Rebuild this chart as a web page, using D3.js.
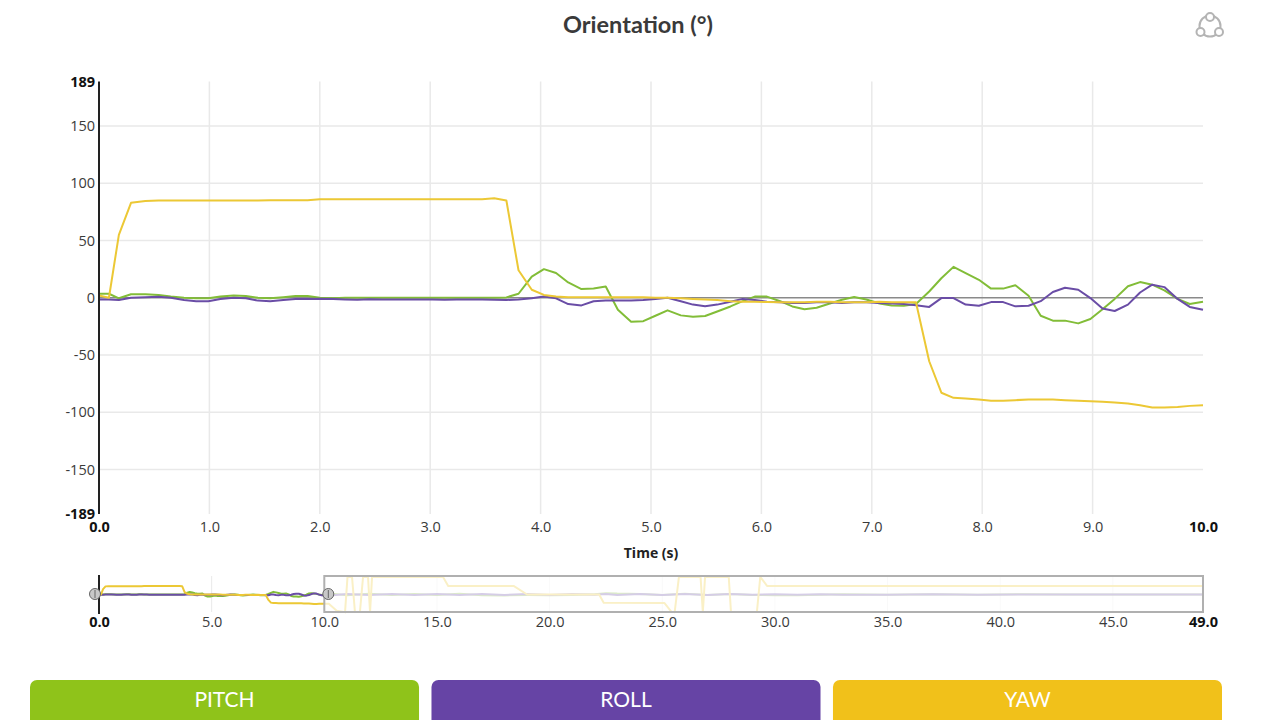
<!DOCTYPE html>
<html>
<head>
<meta charset="utf-8">
<title>Orientation</title>
<script src="https://cdn.jsdelivr.net/npm/d3@7"></script>
<style>
html, body { margin: 0; padding: 0; background: #fff; overflow: hidden; }
svg { display: block; }
.tick text { font-family: "Open Sans", sans-serif; font-size: 14.5px; fill: #3a3a3a; }
.tick.edge text { font-weight: 700; fill: #111; }
.axis .domain { display: none; }
.axis .tick line { display: none; }
</style>
</head>
<body>
<div id="chart"></div>
<script>
// zoomed window samples (0 - 10 s)
var times = [0,.09,.18,.29,.42,.54,.65,.77,.88,.99,
  1.1,1.22,1.33,1.44,1.55,1.67,1.78,1.89,2.0,2.12,
  2.23,2.34,2.45,2.57,2.68,2.79,2.9,3.02,3.13,3.24,
  3.35,3.47,3.58,3.69,3.8,3.92,4.03,4.14,4.25,4.37,
  4.48,4.59,4.7,4.82,4.93,5.04,5.15,5.27,5.38,5.49,
  5.6,5.72,5.83,5.94,6.05,6.17,6.28,6.39,6.5,6.62,
  6.73,6.84,6.95,7.07,7.18,7.29,7.4,7.52,7.63,7.74,
  7.85,7.97,8.08,8.19,8.3,8.42,8.53,8.64,8.75,8.87,
  8.98,9.09,9.2,9.32,9.43,9.54,9.65,9.77,9.88,10.0];
var pitch = [3.5,3.5,-0.5,3,3,2.5,1,0,-0.5,-0.5,
  1,2,1.5,0,-0.5,0.5,1.5,1.5,0,-0.5,
  0,0,0,0,0,0,0,0,0,0,
  0,0,0,0.3,3.5,18.5,25,21.6,13.4,7.6,
  8,9.9,-10.5,-21,-20.5,-15.7,-11,-15.4,-16.6,-16,
  -12,-7.6,-3,1,1,-3,-7.6,-10,-8.7,-5,
  -1.7,0.6,-1.5,-5,-6.8,-7,-5.5,5.5,17,27,
  21.5,15.7,8,8,11,1.7,-15.7,-20,-20,-22.4,
  -18.6,-10,-1,10,13.7,11.4,6.4,-1,-5.5,-3.5];
var roll = [-1.5,-1.5,-2,0,0.5,0.8,0,-2,-3,-3,
  -1,0,-0.5,-2.5,-3,-2,-1,-1,-0.8,-1,
  -1.5,-1.8,-1.3,-1.5,-1.5,-1.5,-1.5,-1.5,-1.7,-1.5,
  -1.5,-1.5,-1.7,-2,-1.5,-0.5,1,-0.5,-5.5,-6.7,
  -3,-2.5,-2.5,-2.3,-2,-1,0,-3,-6,-7.5,
  -6,-3.5,-1,-2,-3.5,-4,-4.5,-4.5,-4,-4,
  -4.5,-4,-4,-4.5,-5,-5.5,-6.5,-8,-0.3,-0.3,
  -6,-7,-3.8,-3.8,-7.5,-7,-3,5,8.7,7,
  -0.3,-9.4,-11.6,-6,4.6,11.4,9.3,-1,-8,-10.5];
var yaw = [2,0,55,83,84.5,85,85,85,85,85,
  85,85,85,85,85.3,85.3,85.3,85.3,86,86,
  86,86,86,86,86,86,86,86,86,86,
  86,86,87,85,24,7,2.5,1,0.5,0.5,
  .5,.5,.5,.5,.5,0,0,-.5,-1,-1.5,
  -2,-3,-3.5,-3.5,-3.8,-4,-4,-4,-3.5,-3.5,
  -4,-4,-4,-3.5,-4,-4,-4,-55.5,-83,-87.5,
  -88,-89,-90,-90,-89.5,-89,-89,-89,-89.5,-90,
  -90.5,-91,-91.5,-92.5,-94,-96,-96,-95.5,-94.5,-94];

// rest of the recording, only seen in the overview
var restTimes = [10.5,11,12,13,14,15,16,17,18,19,20,21,22,22.5,23,24,25,26,27,28,29,30,31,32,33,35,37,39,41,43,45,47,49];
var restPitch = [6,-8,7,-6,5,-6,7,-8,-9,-6,-8,-4,3,14,9,5,-6,8,-5,6,-4,-8,-8,-3,2,-3,3,-2,2,-1,1,-1,0];
var restRoll = [-4,6,-5,5,-6,4,-5,6,-4,5,-5,4,-3,4,-6,6,-6,4,-5,5,-3,2,-3,2,-2,-3,3,-2,1,-1,1,0,0];
var restYawTimes = [10.2,10.55,10.92,11.03,11.23,11.36,11.58,11.72,11.94,12.03,12.12,15.27,15.5,18.4,19,22.2,22.4,25.1,25.4,25.55,25.74,26.7,26.8,26.9,27.95,28.05,29.2,29.35,29.65,49];
var restYaw = [-94,-165,-180,180,180,-180,-180,180,180,-180,180,180,88,88,0,0,-85,-88,-175,-180,180,180,-180,180,180,-180,-180,180,88,88];

var seriesNames = ["PITCH", "ROLL", "YAW"];
var lineColors = ["#82bd38", "#6a4da6", "#ecc835"];
var buttonColors = ["#8fc31a", "#6644a5", "#f1c11a"];
var yTicks = [189, 150, 100, 50, 0, -50, -100, -150, -189];
var xTicks = [0, 1, 2, 3, 4, 5, 6, 7, 8, 9, 10];
var overviewTicks = [0, 5, 10, 15, 20, 25, 30, 35, 40, 45, 49];
var windowEnd = 10, totalEnd = 49;

var svg = d3.select("#chart").append("svg")
  .attr("width", 1280)
  .attr("height", 720);

var x = d3.scaleLinear().domain([0, windowEnd]).range([99, 1203]);
var y = d3.scaleLinear().domain([-189, 189]).range([514, 81.5]);
var xo = d3.scaleLinear().domain([0, totalEnd]).range([99, 1203]);
var yo = d3.scaleLinear().domain([-189, 189]).range([613, 576]);

// title
svg.append("text")
  .attr("x", 638).attr("y", 33)
  .attr("text-anchor", "middle")
  .style("font-family", "Lato, sans-serif")
  .style("font-size", "23.5px")
  .style("font-weight", "700")
  .style("fill", "#3a3a3a")
  .text("Orientation (°)");

// little share icon, top right
var icon = svg.append("g")
  .attr("fill", "none")
  .attr("stroke", "#b4b4b4")
  .attr("stroke-width", 2);
icon.append("circle").attr("cx", 1210).attr("cy", 26).attr("r", 10.5);
[[1210, 17], [1200.5, 32], [1219, 32]].forEach(function(c) {
  icon.append("circle").attr("cx", c[0]).attr("cy", c[1]).attr("r", 4).attr("fill", "#fff");
});

// grid
svg.append("g").selectAll("line")
  .data(yTicks.filter(d => Math.abs(d) != 189 && d != 0))
  .enter().append("line")
  .attr("x1", 99).attr("x2", 1203)
  .attr("y1", d => y(d)).attr("y2", d => y(d))
  .attr("stroke", "#e9e9e9").attr("stroke-width", 1.5);
svg.append("g").selectAll("line")
  .data(xTicks.filter(d => d != 0 && d != 10))
  .enter().append("line")
  .attr("x1", d => x(d)).attr("x2", d => x(d))
  .attr("y1", 81.5).attr("y2", 514)
  .attr("stroke", "#e9e9e9").attr("stroke-width", 1.5);

// zero line
svg.append("line")
  .attr("x1", 99).attr("x2", 1203)
  .attr("y1", y(0)).attr("y2", y(0))
  .attr("stroke", "#8a8a8a").attr("stroke-width", 1.5);

// main lines
var mainLine = d3.line().x(d => x(d[0])).y(d => y(d[1]));
[pitch, roll, yaw].forEach(function(values, i) {
  svg.append("path")
    .datum(d3.zip(times, values))
    .attr("d", mainLine)
    .attr("fill", "none")
    .attr("stroke", lineColors[i])
    .attr("stroke-width", 2)
    .attr("stroke-linejoin", "round");
});

// axes
var yAxis = svg.append("g")
  .attr("class", "axis")
  .attr("transform", "translate(99,0)")
  .call(d3.axisLeft(y).tickValues(yTicks).tickFormat(String).tickSize(0).tickPadding(4));
yAxis.selectAll(".tick").classed("edge", d => Math.abs(d) == 189);

svg.append("line")
  .attr("x1", 99).attr("x2", 99)
  .attr("y1", 81.5).attr("y2", 514)
  .attr("stroke", "#222").attr("stroke-width", 2);

var xAxis = svg.append("g")
  .attr("class", "axis")
  .attr("transform", "translate(0,518)")
  .call(d3.axisBottom(x).tickValues(xTicks).tickFormat(d3.format(".1f")).tickSize(0).tickPadding(4));
xAxis.selectAll(".tick").classed("edge", d => d == 0 || d == 10);

svg.append("text")
  .attr("x", 651).attr("y", 558)
  .attr("text-anchor", "middle")
  .style("font-family", "'Open Sans', sans-serif")
  .style("font-size", "14px")
  .style("font-weight", "700")
  .style("fill", "#222")
  .text("Time (s)");

// overview strip
svg.append("g").selectAll("line")
  .data(overviewTicks.filter(d => d != 0 && d != totalEnd))
  .enter().append("line")
  .attr("x1", d => xo(d)).attr("x2", d => xo(d))
  .attr("y1", 576).attr("y2", 612)
  .attr("stroke", "#e9e9e9").attr("stroke-width", 1);

var overLine = d3.line().x(d => xo(d[0])).y(d => yo(d[1]));
var fullSeries = [
  d3.zip(times.concat(restTimes), pitch.concat(restPitch)),
  d3.zip(times.concat(restTimes), roll.concat(restRoll)),
  d3.zip(times.concat(restYawTimes), yaw.concat(restYaw))
];
fullSeries.forEach(function(points, i) {
  svg.append("path")
    .datum(points)
    .attr("d", overLine)
    .attr("fill", "none")
    .attr("stroke", lineColors[i])
    .attr("stroke-width", 2)
    .attr("stroke-linejoin", "round");
});

// part of the recording outside the window is washed out
svg.append("rect")
  .attr("x", xo(windowEnd)).attr("y", 576)
  .attr("width", xo(totalEnd) - xo(windowEnd)).attr("height", 36)
  .attr("fill", "#fff").attr("fill-opacity", 0.72)
  .attr("stroke", "#b0b0b0").attr("stroke-width", 2);

svg.append("line")
  .attr("x1", 99).attr("x2", 99)
  .attr("y1", 575).attr("y2", 614)
  .attr("stroke", "#222").attr("stroke-width", 2);

// brush handles
[0, windowEnd].forEach(function(d, i) {
  var hx = xo(d) + (i ? 4 : -4);
  svg.append("circle")
    .attr("cx", hx).attr("cy", 594).attr("r", 5.5)
    .attr("fill", "#c8c8c8").attr("stroke", "#666").attr("stroke-width", 1);
  svg.append("line")
    .attr("x1", hx).attr("x2", hx)
    .attr("y1", 590).attr("y2", 598)
    .attr("stroke", "#666").attr("stroke-width", 1);
});

var overviewAxis = svg.append("g")
  .attr("class", "axis")
  .attr("transform", "translate(0,613)")
  .call(d3.axisBottom(xo).tickValues(overviewTicks).tickFormat(d3.format(".1f")).tickSize(0).tickPadding(4));
overviewAxis.selectAll(".tick").classed("edge", d => d == 0 || d == totalEnd);

// series buttons
var buttonX = d3.scaleBand().domain(seriesNames).range([30, 1222]).paddingInner(0.031);
var buttons = svg.selectAll(".series-button")
  .data(seriesNames)
  .enter().append("g")
  .attr("class", "series-button");
buttons.append("rect")
  .attr("x", d => buttonX(d)).attr("y", 680)
  .attr("width", buttonX.bandwidth()).attr("height", 48)
  .attr("rx", 7)
  .attr("fill", (d, i) => buttonColors[i]);
buttons.append("text")
  .attr("x", d => buttonX(d) + buttonX.bandwidth() / 2).attr("y", 707)
  .attr("text-anchor", "middle")
  .style("font-family", "Lato, sans-serif")
  .style("font-size", "21px")
  .style("fill", "#fff")
  .text(d => d);
</script>
</body>
</html>
